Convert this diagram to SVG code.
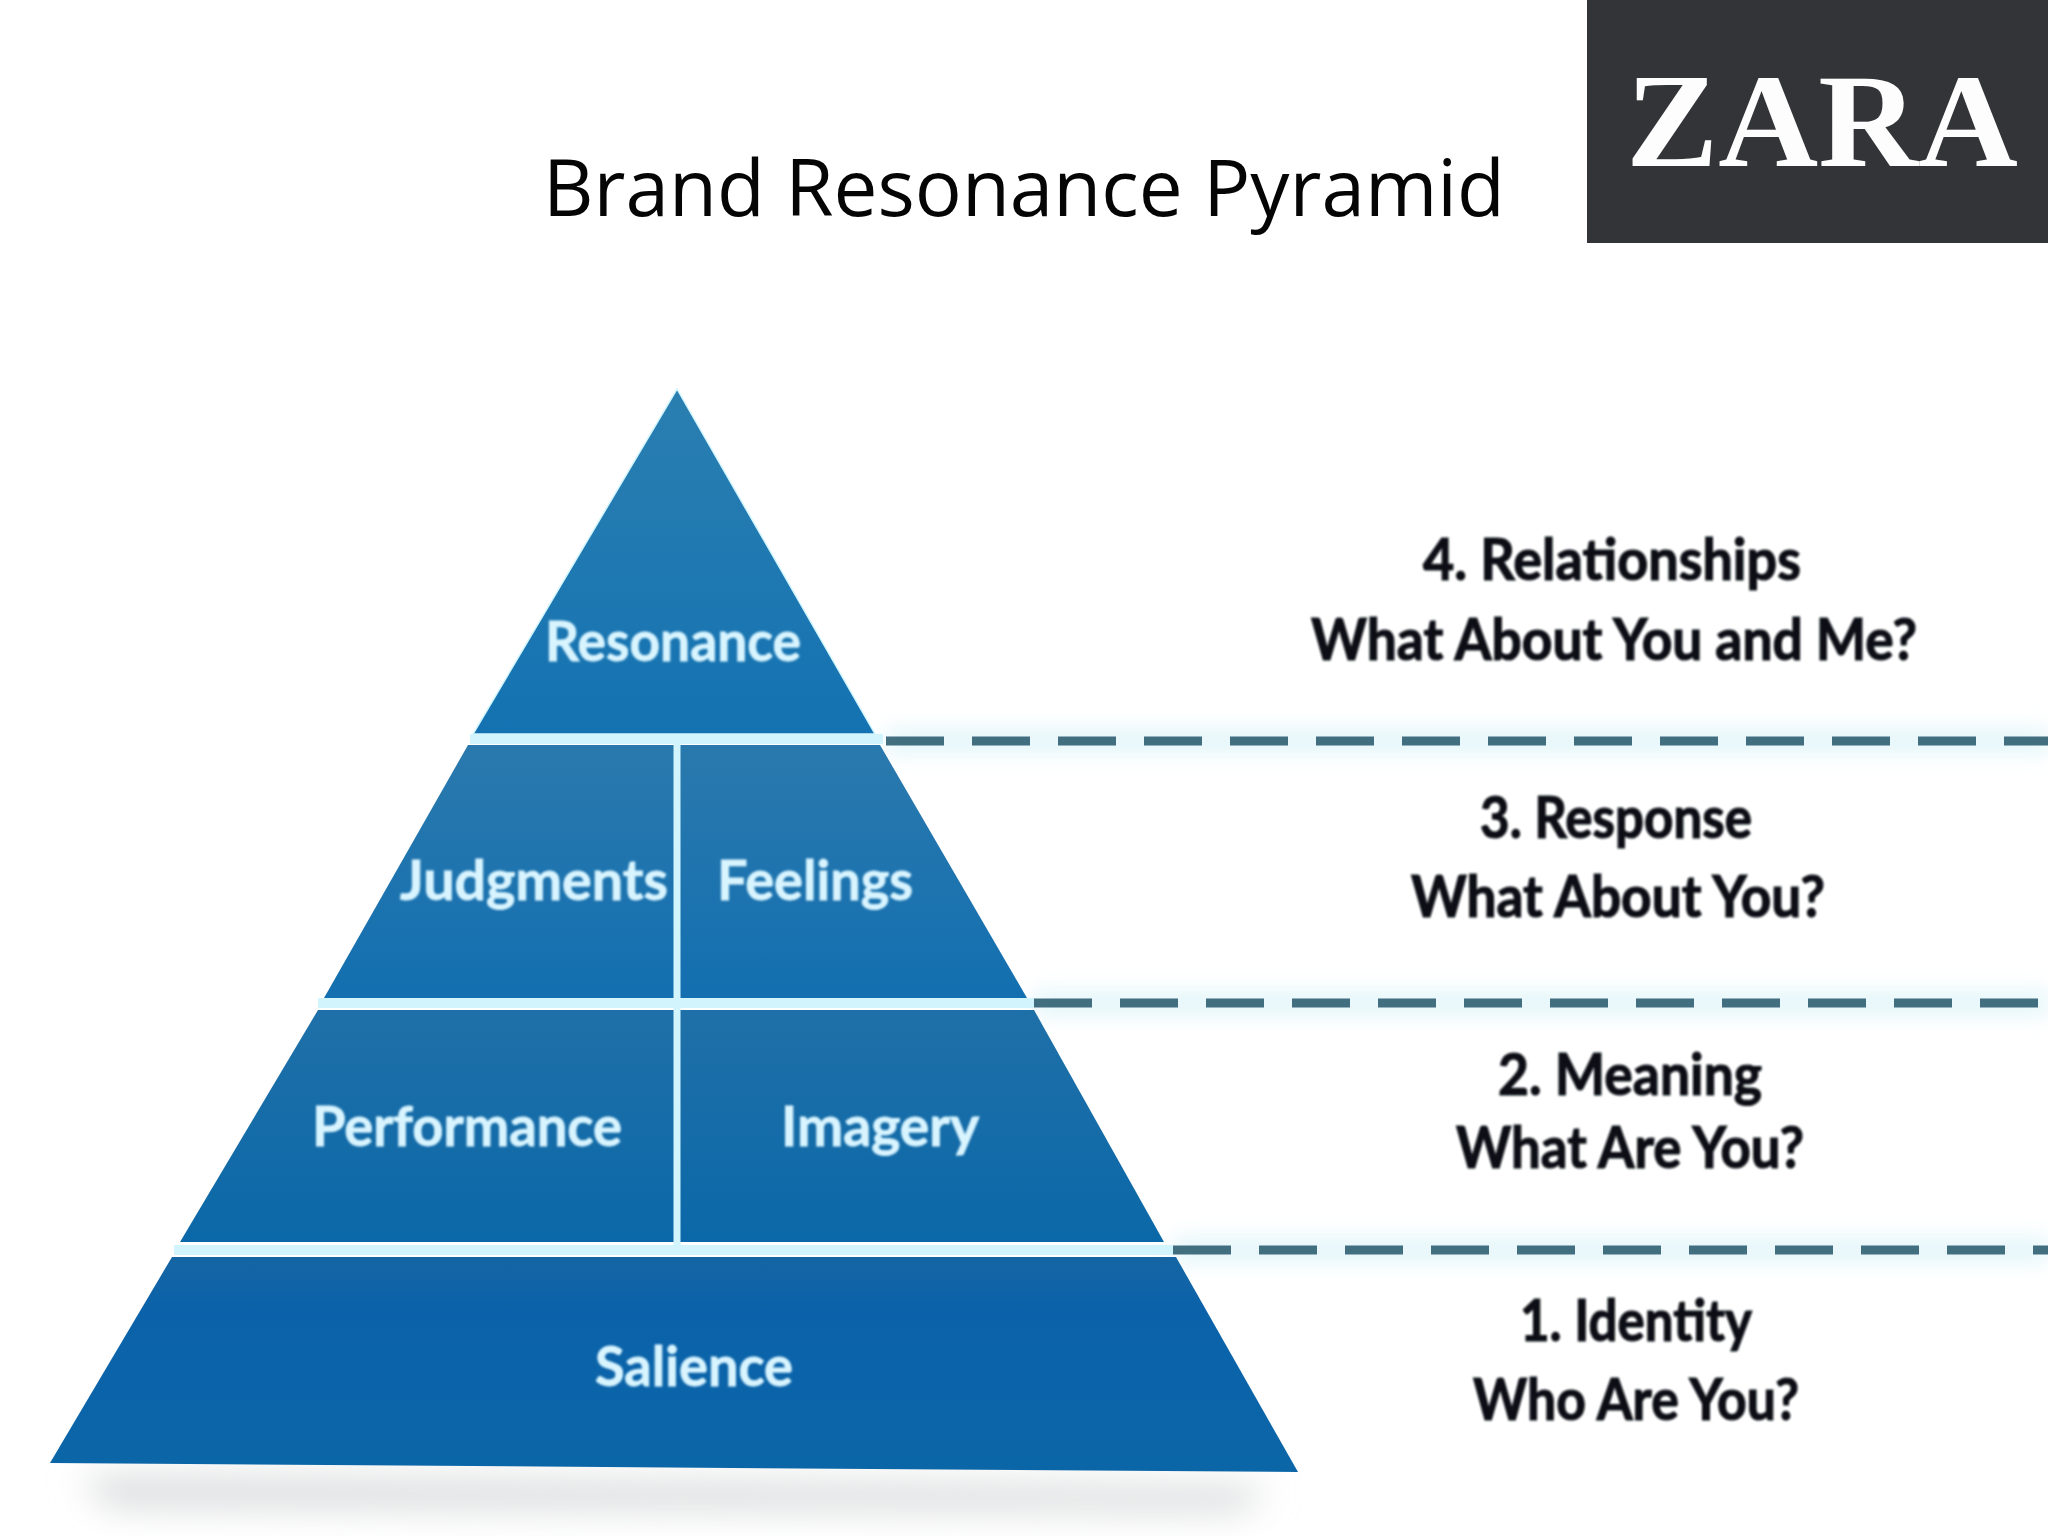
<svg xmlns="http://www.w3.org/2000/svg" width="2048" height="1536" viewBox="0 0 2048 1536">
<style>
.title{font-family:"Open Sans","Noto Sans",sans-serif;font-size:78px;fill:#050505}
.logo{font-family:"Liberation Serif",serif;font-size:134px;font-weight:700;fill:#fdfdfd}
.tier{font-family:"Lato","Liberation Sans",sans-serif;font-size:56px;font-weight:700;fill:#d8f4ff;text-anchor:middle;stroke:#d8f4ff;stroke-width:.8}
.lab{font-family:"Lato","Liberation Sans",sans-serif;font-size:58px;font-weight:700;fill:#0c1014;text-anchor:middle;stroke:#0c1014;stroke-width:1.2}
.dash{fill:none;stroke:#426f80;stroke-width:9;stroke-dasharray:58 28}
.glow{fill:none;stroke:#e4f6fa;stroke-width:26}
.rule{stroke:#d2f5fd;fill:none}
</style>
<defs>
<linearGradient id="g1" x1="0" y1="0" x2="0" y2="1"><stop offset="0" stop-color="#2a7fb0"/><stop offset="1" stop-color="#1472b2"/></linearGradient>
<linearGradient id="g2" x1="0" y1="0" x2="0" y2="1"><stop offset="0" stop-color="#2a79ad"/><stop offset="1" stop-color="#136fb0"/></linearGradient>
<linearGradient id="g3" x1="0" y1="0" x2="0" y2="1"><stop offset="0" stop-color="#1f70a8"/><stop offset="1" stop-color="#0b68a8"/></linearGradient>
<linearGradient id="g4" x1="0" y1="0" x2="0" y2="1"><stop offset="0" stop-color="#1565a3"/><stop offset="0.25" stop-color="#0b62aa"/><stop offset="1" stop-color="#0b66a7"/></linearGradient>
<filter id="b1" x="-10%" y="-100%" width="120%" height="300%"><feGaussianBlur stdDeviation="18"/></filter>
<filter id="b2" x="-20%" y="-300%" width="140%" height="700%"><feGaussianBlur stdDeviation="10"/></filter>
<filter id="soft" x="-5%" y="-20%" width="110%" height="140%"><feGaussianBlur stdDeviation="1.2"/></filter>
</defs>
<rect width="2048" height="1536" fill="#fff"/>
<text class="title" x="543" y="216" textLength="962" lengthAdjust="spacingAndGlyphs">Brand Resonance Pyramid</text>
<g id="logo">
<rect x="1587" width="461" height="243" fill="#333438"/>
<text class="logo" x="1626" y="166" textLength="392" lengthAdjust="spacingAndGlyphs">ZARA</text>
</g>
<g id="shadow"><polygon points="80,1478 1270,1488 1240,1510 110,1505" fill="#d2d4d6" filter="url(#b1)"/></g>
<g id="connectors">
<path class="glow" filter="url(#b2)" d="M886 741H2048M1034 1003H2048M1173 1250H2048"/>
<path class="dash" d="M886 741H2048"/>
<path class="dash" d="M1034 1003H2048"/>
<path class="dash" d="M1173 1250H2048"/>
</g>
<g id="pyramid">
<polygon points="677,389 875,734 473,734" fill="url(#g1)" stroke="#d2f5fd" stroke-width="1.5"/>
<polygon points="468,745 880,745 1027,998 324,998" fill="url(#g2)"/>
<polygon points="318,1010 1034,1010 1164,1242 180,1242" fill="url(#g3)"/>
<polygon points="172,1257 1176,1257 1298,1472 50,1463" fill="url(#g4)"/>
<path class="rule" stroke-width="10" d="M470 739H883M318 1003H1034M174 1250H1173"/>
<path class="rule" stroke-width="7" d="M677 744V1246"/>
</g>
<g id="tier-resonance"><text class="tier" filter="url(#soft)" x="673" y="661" textLength="256" lengthAdjust="spacingAndGlyphs">Resonance</text></g>
<g id="tier-judgments"><text class="tier" filter="url(#soft)" x="534" y="900" textLength="268" lengthAdjust="spacingAndGlyphs">Judgments</text></g>
<g id="tier-feelings"><text class="tier" filter="url(#soft)" x="815" y="900" textLength="196" lengthAdjust="spacingAndGlyphs">Feelings</text></g>
<g id="tier-performance"><text class="tier" filter="url(#soft)" x="467" y="1146" textLength="310" lengthAdjust="spacingAndGlyphs">Performance</text></g>
<g id="tier-imagery"><text class="tier" filter="url(#soft)" x="880" y="1146" textLength="198" lengthAdjust="spacingAndGlyphs">Imagery</text></g>
<g id="tier-salience"><text class="tier" filter="url(#soft)" x="694" y="1386" textLength="198" lengthAdjust="spacingAndGlyphs">Salience</text></g>
<g id="label-4">
<text class="lab" filter="url(#soft)" x="1612" y="580" textLength="378" lengthAdjust="spacingAndGlyphs">4. Relationships</text>
<text class="lab" filter="url(#soft)" x="1614" y="660" textLength="606" lengthAdjust="spacingAndGlyphs">What About You and Me?</text>
</g>
<g id="label-3">
<text class="lab" filter="url(#soft)" x="1616" y="838" textLength="272" lengthAdjust="spacingAndGlyphs">3. Response</text>
<text class="lab" filter="url(#soft)" x="1618" y="917" textLength="414" lengthAdjust="spacingAndGlyphs">What About You?</text>
</g>
<g id="label-2">
<text class="lab" filter="url(#soft)" x="1630" y="1095" textLength="264" lengthAdjust="spacingAndGlyphs">2. Meaning</text>
<text class="lab" filter="url(#soft)" x="1630" y="1168" textLength="348" lengthAdjust="spacingAndGlyphs">What Are You?</text>
</g>
<g id="label-1">
<text class="lab" filter="url(#soft)" x="1636" y="1341" textLength="232" lengthAdjust="spacingAndGlyphs">1. Identity</text>
<text class="lab" filter="url(#soft)" x="1636" y="1420" textLength="326" lengthAdjust="spacingAndGlyphs">Who Are You?</text>
</g>
</svg>
